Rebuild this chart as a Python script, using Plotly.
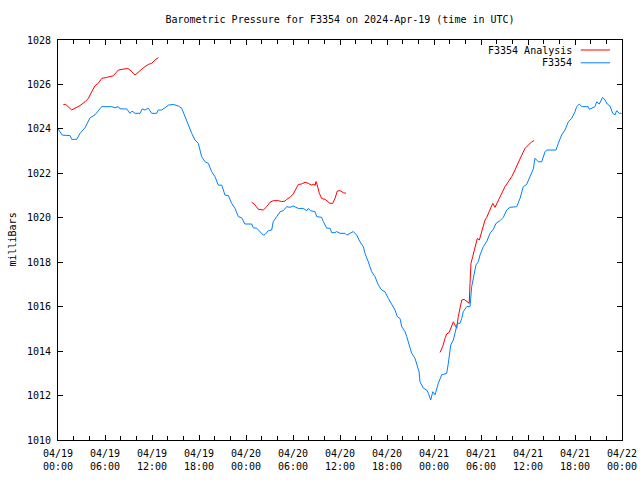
import pandas as pd
import plotly.graph_objects as go

# ---- data: hours since 2024-04-19 00:00 UTC, pressure in mb ----
blue_h = [0.0, 0.55, 1.53, 1.75, 2.39, 2.81, 3.45, 4.09, 4.72, 5.58, 6.86, 7.28, 7.70, 7.91, 8.77,
          9.19, 9.45, 9.83, 10.47, 10.76, 11.11, 11.53, 11.96, 12.6, 12.80, 13.24, 13.66, 14.08,
          14.72, 15.36, 15.79, 16.21, 16.63, 17.07, 17.49, 17.91, 18.34, 18.77, 19.19, 19.62,
          20.04, 20.46, 20.9, 21.32, 21.74, 22.17, 22.6, 23.02, 23.45, 23.87, 24.73, 24.93,
          25.37, 25.79, 26.21, 26.43, 26.85, 27.28, 27.48, 27.92, 28.34, 28.76, 29.2, 29.62,
          30.04, 30.68, 31.31, 31.75, 31.96, 32.26, 32.81, 33.03, 33.66, 33.87, 34.3, 34.72,
          34.94, 35.36, 35.58, 36.0, 36.64, 36.86, 37.28, 37.7, 38.13, 38.55, 38.98, 39.19,
          39.61, 40.05, 40.47, 40.89, 41.32, 41.74, 42.17, 42.6, 43.02, 43.32, 43.66, 43.88,
          44.3, 44.52, 44.94, 45.15, 45.57, 45.87, 46.09, 46.21, 46.64, 47.07, 47.28, 47.58,
          47.84, 48.13, 48.55, 48.98, 49.62, 49.83, 50.13, 50.47, 50.68, 50.98, 51.32, 51.54,
          51.74, 52.17, 52.6, 52.81, 53.11, 53.36, 53.66, 53.87, 54.3, 54.73, 55.15, 55.57,
          55.92, 56.43, 56.85, 57.28, 57.7, 58.13, 58.56, 58.98, 59.4, 59.83, 60.26, 60.68,
          60.89, 61.32, 61.75, 62.17, 62.39, 63.57, 63.87, 64.3, 64.72, 65.15, 65.58, 66.0,
          66.21, 66.55, 66.86, 67.7, 67.83, 68.13, 68.55, 68.77, 69.1, 69.53, 69.83, 70.12,
          70.47, 70.81, 71.11, 71.32, 71.66, 71.96]
blue_p = [1024.0, 1023.72, 1023.7, 1023.53, 1023.53, 1023.8, 1024.05, 1024.5, 1024.63, 1025.0,
          1025.0, 1024.95, 1025.0, 1024.9, 1024.9, 1024.7, 1024.8, 1024.7, 1024.7, 1024.9,
          1024.85, 1024.93, 1024.7, 1024.7, 1024.85, 1024.85, 1024.95, 1025.07, 1025.1, 1025.03,
          1024.93, 1024.55, 1024.25, 1023.8, 1023.5, 1023.35, 1022.75, 1022.52, 1022.45, 1022.07,
          1021.85, 1021.47, 1021.47, 1021.02, 1021.0, 1020.65, 1020.42, 1020.05, 1020.0, 1019.72,
          1019.72, 1019.55, 1019.53, 1019.38, 1019.22, 1019.25, 1019.42, 1019.45, 1019.83, 1020.05,
          1020.27, 1020.32, 1020.5, 1020.47, 1020.53, 1020.42, 1020.42, 1020.32, 1020.42, 1020.32,
          1020.27, 1020.05, 1020.02, 1019.83, 1019.53, 1019.53, 1019.33, 1019.33, 1019.38, 1019.3,
          1019.3, 1019.22, 1019.3, 1019.38, 1019.22, 1018.92, 1018.7, 1018.4, 1018.02, 1017.57,
          1017.35, 1016.98, 1016.75, 1016.67, 1016.37, 1016.07, 1015.85, 1015.55, 1015.47, 1015.1,
          1014.88, 1014.65, 1014.2, 1013.9, 1013.68, 1013.38, 1013.07, 1012.62, 1012.33, 1012.25,
          1012.1, 1011.8, 1012.17, 1012.03, 1012.55, 1012.93, 1013.0, 1013.45, 1014.27, 1014.5,
          1014.88, 1015.25, 1015.25, 1015.47, 1015.78, 1016.0, 1016.0, 1016.9, 1017.43, 1017.88,
          1018.02, 1018.32, 1018.7, 1018.93, 1019.3, 1019.48, 1019.75, 1019.87, 1020.02, 1020.35,
          1020.47, 1020.5, 1020.5, 1020.87, 1021.4, 1021.5, 1021.88, 1022.2, 1022.68, 1022.52,
          1022.52, 1022.97, 1023.05, 1023.05, 1023.35, 1023.73, 1023.95, 1024.32, 1024.48, 1024.77,
          1025.0, 1025.12, 1025.0, 1025.0, 1024.88, 1024.92, 1025.0, 1025.22, 1025.12, 1025.42,
          1025.3, 1025.12, 1025.03, 1024.7, 1024.63, 1024.82, 1024.7, 1024.7]

red1_h = [0.68, 0.98, 1.75, 2.17, 2.81, 3.45, 3.87, 4.3, 4.72, 5.14, 5.58, 6.22, 6.64, 7.06,
          7.70, 8.34, 8.9, 9.19, 9.83, 10.25, 10.89, 11.53, 11.96, 12.38, 12.8]
red1_p = [1025.1, 1025.1, 1024.85, 1024.93, 1025.05, 1025.22, 1025.37, 1025.67, 1025.94, 1026.05,
          1026.27, 1026.32, 1026.35, 1026.39, 1026.65, 1026.7, 1026.72, 1026.65, 1026.43, 1026.55,
          1026.75, 1026.9, 1026.95, 1027.1, 1027.2]
red2_h = [24.73, 25.15, 25.57, 26.21, 26.64, 27.06, 27.49, 28.12, 28.56, 28.98, 29.2, 29.62,
          30.04, 30.47, 30.68, 31.11, 31.53, 31.95, 32.39, 32.68, 32.81, 32.94, 33.1, 33.36,
          33.66, 34.09, 34.72, 35.07, 35.36, 35.66, 36.0, 36.42, 36.77]
red2_p = [1020.7, 1020.58, 1020.38, 1020.35, 1020.5, 1020.7, 1020.77, 1020.77, 1020.73, 1020.75,
          1020.83, 1020.92, 1021.07, 1021.33, 1021.5, 1021.52, 1021.6, 1021.55, 1021.47, 1021.52,
          1021.45, 1021.63, 1021.47, 1021.1, 1020.87, 1020.83, 1020.65, 1020.65, 1020.87, 1021.2,
          1021.22, 1021.13, 1021.1]
red3_h = [48.77, 49.11, 49.4, 49.62, 49.95, 50.26, 50.47, 50.68, 50.9, 51.1, 51.32, 51.54, 51.83,
          52.17, 52.5, 52.6, 52.72, 52.94, 53.23, 53.53, 53.79, 54.09, 54.51, 54.73, 55.15, 55.5,
          55.79, 56.21, 56.64, 57.06, 57.49, 57.92, 58.34, 58.77, 59.2, 59.62, 60.04, 60.47, 60.77]
red3_p = [1013.94, 1014.2, 1014.57, 1014.77, 1014.85, 1015.1, 1015.32, 1015.17, 1015.03, 1015.55,
          1015.93, 1016.3, 1016.33, 1016.22, 1016.15, 1017.05, 1017.95, 1018.25, 1018.7, 1019.07,
          1019.0, 1019.37, 1019.9, 1020.02, 1020.35, 1020.65, 1020.47, 1020.8, 1021.1, 1021.4,
          1021.62, 1021.85, 1022.15, 1022.45, 1022.82, 1023.12, 1023.27, 1023.42, 1023.47]

tick_hours = [0, 6, 12, 18, 24, 30, 36, 42, 48, 54, 60, 66, 72]
tick_labels = ["04/19<br>00:00", "04/19<br>06:00", "04/19<br>12:00", "04/19<br>18:00",
               "04/20<br>00:00", "04/20<br>06:00", "04/20<br>12:00", "04/20<br>18:00",
               "04/21<br>00:00", "04/21<br>06:00", "04/21<br>12:00", "04/21<br>18:00",
               "04/22<br>00:00"]

base = pd.Timestamp("2024-04-19 00:00")


def to_time(hours):
    return [base + pd.Timedelta(hours=h) for h in hours]


red_x, red_y = [], []
for hs, ps in [(red1_h, red1_p), (red2_h, red2_p), (red3_h, red3_p)]:
    red_x += to_time(hs) + [None]
    red_y += ps + [None]

RED = "#ff0000"
BLUE = "#0080ff"
FONT = "DejaVu Sans Mono"

W, H = 640, 480

fig = go.Figure()
fig.add_trace(go.Scatter(x=red_x, y=red_y, mode="lines", name="F3354 Analysis",
                         line=dict(color=RED, width=1), connectgaps=False, showlegend=False))
fig.add_trace(go.Scatter(x=to_time(blue_h), y=blue_p, mode="lines", name="F3354",
                         line=dict(color=BLUE, width=1), showlegend=False))

# legend drawn gnuplot-style (text then line sample)
for i, (name, col) in enumerate([("F3354 Analysis", RED), ("F3354", BLUE)]):
    yp = 0.975 - i * 0.032
    fig.add_annotation(x=0.9149, y=yp, xref="paper", yref="paper", text=name, showarrow=False,
                       xanchor="right", yanchor="middle", font=dict(family=FONT, size=10, color="black"))
    fig.add_shape(type="line", xref="paper", yref="paper", x0=0.927, x1=0.9787, y0=yp, y1=yp,
                  line=dict(color=col, width=1))

fig.add_annotation(x=-0.0824, y=0.5, xref="paper", yref="paper", text="milliBars", textangle=-90,
                   showarrow=False, xanchor="center", yanchor="middle",
                   font=dict(family=FONT, size=10, color="black"))

fig.update_layout(
    width=W, height=H,
    margin=dict(l=58, r=18, t=40, b=40, pad=0, autoexpand=False),
    paper_bgcolor="white", plot_bgcolor="white",
    font=dict(family=FONT, size=10, color="black"),
    title=dict(text="Barometric Pressure for F3354 on 2024-Apr-19 (time in UTC)",
               x=0.5, xref="paper", y=1 - 19 / H, yref="container", yanchor="middle",
               automargin=False, font=dict(family=FONT, size=10, color="black")),
    xaxis=dict(range=[base, base + pd.Timedelta(hours=72)], tickmode="array",
               tickvals=to_time(tick_hours), ticktext=tick_labels, automargin=False,
               ticks="inside", ticklen=5, tickcolor="black", showline=True, linecolor="black",
               linewidth=1, mirror="ticks", showgrid=False, zeroline=False, ticklabelstandoff=4,
               ticklabeloverflow="allow",
               minor=dict(tickmode="linear", tick0=base, dtick=2 * 3600 * 1000, ticks="inside",
                          ticklen=4, tickcolor="black", showgrid=False)),
    yaxis=dict(range=[1010, 1028], tickmode="linear", tick0=1010, dtick=2, tickformat="d",
               automargin=False,
               ticks="inside", ticklen=5, tickcolor="black", showline=True, linecolor="black",
               linewidth=1, mirror="ticks", showgrid=False, zeroline=False, ticklabelstandoff=4),
)

fig.write_html("out.html", config={"displayModeBar": False},
               post_script="document.body.style.margin='0';document.body.style.overflow='hidden';")
